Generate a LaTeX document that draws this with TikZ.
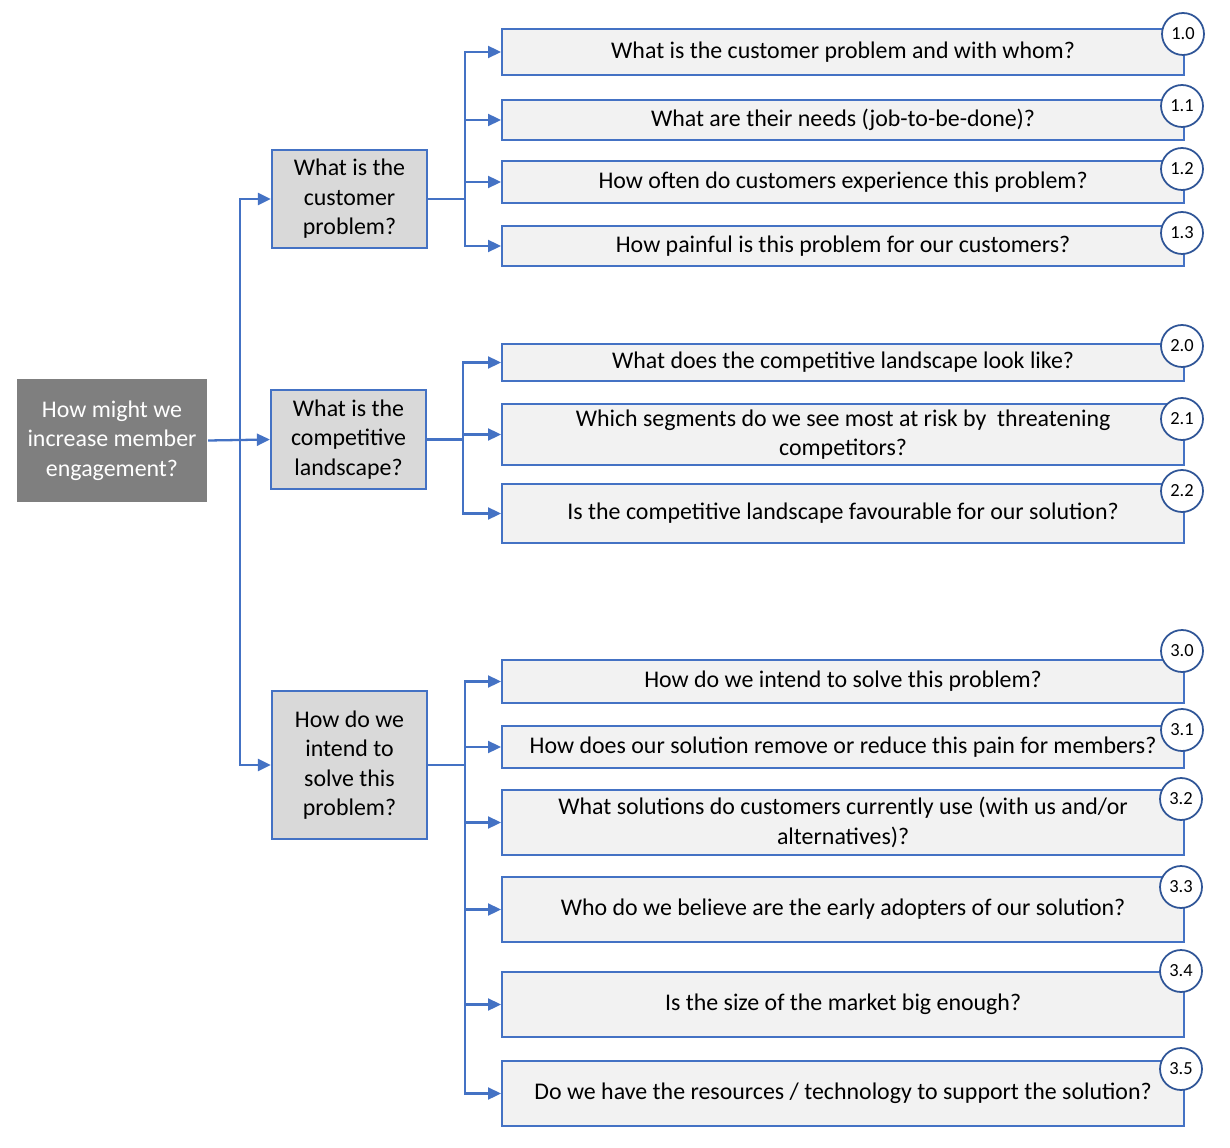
\documentclass[tikz,border=0pt]{standalone}
\usepackage{fontspec}
\setmainfont{Carlito}
\usetikzlibrary{arrows.meta}

\definecolor{linkblue}{HTML}{4472C4}
\definecolor{ringblue}{HTML}{2F5597}
\definecolor{rootgray}{HTML}{7F7F7F}
\definecolor{midgray}{HTML}{D9D9D9}
\definecolor{leafgray}{HTML}{F2F2F2}

\tikzset{
    base/.style={draw=linkblue, line width=1.3pt, align=center, inner sep=2pt,
        font=\fontsize{13.6}{16.8}\selectfont},
    rootbox/.style={base, draw=none, fill=rootgray, text=white,
        minimum width=3.8cm, minimum height=2.46cm},
    midbox/.style={base, fill=midgray, minimum width=3.1cm},
    leafbox/.style={base, fill=leafgray, anchor=west, minimum width=13.64cm},
    ring/.style={circle, draw=ringblue, fill=white, line width=1pt,
        minimum size=0.84cm, inner sep=0pt, font=\fontsize{10.5}{12}\selectfont},
    link/.style={draw=linkblue, line width=1.3pt},
    arr/.style={link, -{Triangle[length=0.26cm, width=0.24cm]}}
}

\begin{document}
\begin{tikzpicture}[x=0.02cm, y=-0.02cm]
    \useasboundingbox (0,0) rectangle (1230,1148);

    % root and question groups
    \node[rootbox] (root) at (112,440.5) {How might we\\increase member\\engagement?};
    \node[midbox, minimum height=1.96cm] (b1) at (349.5,199) {What is the\\customer\\problem?};
    \node[midbox, minimum height=1.98cm] (b2) at (348.5,439.5) {What is the\\competitive\\landscape?};
    \node[midbox, minimum height=2.96cm] (b3) at (349.5,765) {How do we\\intend to\\solve this\\problem?};

    % leaves of group 1
    \node[leafbox, minimum height=0.92cm] (l10) at (501,52) {What is the customer problem and with whom?};
    \node[leafbox, minimum height=0.80cm] (l11) at (501,120) {What are their needs (job-to-be-done)?};
    \node[leafbox, minimum height=0.84cm] (l12) at (501,182) {How often do customers experience this problem?};
    \node[leafbox, minimum height=0.80cm] (l13) at (501,246) {How painful is this problem for our customers?};

    % leaves of group 2
    \node[leafbox, minimum height=0.74cm] (l20) at (501,362.5) {What does the competitive landscape look like?};
    \node[leafbox, minimum height=1.22cm] (l21) at (501,434.5) {Which segments do we see most at risk by~~threatening\\competitors?};
    \node[leafbox, minimum height=1.18cm] (l22) at (501,513.5) {Is the competitive landscape favourable for our solution?};

    % leaves of group 3
    \node[leafbox, minimum height=0.86cm] (l30) at (501,681.5) {How do we intend to solve this problem?};
    \node[leafbox, minimum height=0.84cm] (l31) at (501,747) {How does our solution remove or reduce this pain for members?};
    \node[leafbox, minimum height=1.30cm] (l32) at (501,822.5) {What solutions do customers currently use (with us and/or\\alternatives)?};
    \node[leafbox, minimum height=1.30cm] (l33) at (501,909.5) {Who do we believe are the early adopters of our solution?};
    \node[leafbox, minimum height=1.30cm] (l34) at (501,1004.5) {Is the size of the market big enough?};
    \node[leafbox, minimum height=1.30cm] (l35) at (501,1093.5) {Do we have the resources / technology to support the solution?};

    % number rings
    \node[ring] (n10) at (1183,34) {1.0};
    \node[ring] (n11) at (1182,106) {1.1};
    \node[ring] (n12) at (1182,169) {1.2};
    \node[ring] (n13) at (1182,233) {1.3};
    \node[ring] (n20) at (1182,346) {2.0};
    \node[ring] (n21) at (1182,419) {2.1};
    \node[ring] (n22) at (1182,491) {2.2};
    \node[ring] (n30) at (1182,651) {3.0};
    \node[ring] (n31) at (1182,730) {3.1};
    \node[ring] (n32) at (1181,799) {3.2};
    \node[ring] (n33) at (1181,887) {3.3};
    \node[ring] (n34) at (1181,971) {3.4};
    \node[ring] (n35) at (1181,1069) {3.5};

    % junctions
    \coordinate (t0) at (240,440.5);
    \coordinate (j1) at (465,199);
    \coordinate (j2) at (463,439.5);
    \coordinate (j3) at (465,765);

    % trunk
    \draw[arr] (root.east) -- (b2.west);
    \draw[arr] (t0) |- (b1.west);
    \draw[arr] (t0) |- (b3.west);

    % branches
    \draw[link] (b1.east) -- (j1);
    \draw[arr] (j1) |- (l10.west);
    \draw[arr] (j1) |- (l11.west);
    \draw[arr] (j1) |- (l12.west);
    \draw[arr] (j1) |- (l13.west);

    \draw[link] (b2.east) -- (j2);
    \draw[arr] (j2) |- (l20.west);
    \draw[arr] (j2) |- (l21.west);
    \draw[arr] (j2) |- (l22.west);

    \draw[link] (b3.east) -- (j3);
    \draw[arr] (j3) |- (l30.west);
    \draw[arr] (j3) |- (l31.west);
    \draw[arr] (j3) |- (l32.west);
    \draw[arr] (j3) |- (l33.west);
    \draw[arr] (j3) |- (l34.west);
    \draw[arr] (j3) |- (l35.west);
\end{tikzpicture}
\end{document}
